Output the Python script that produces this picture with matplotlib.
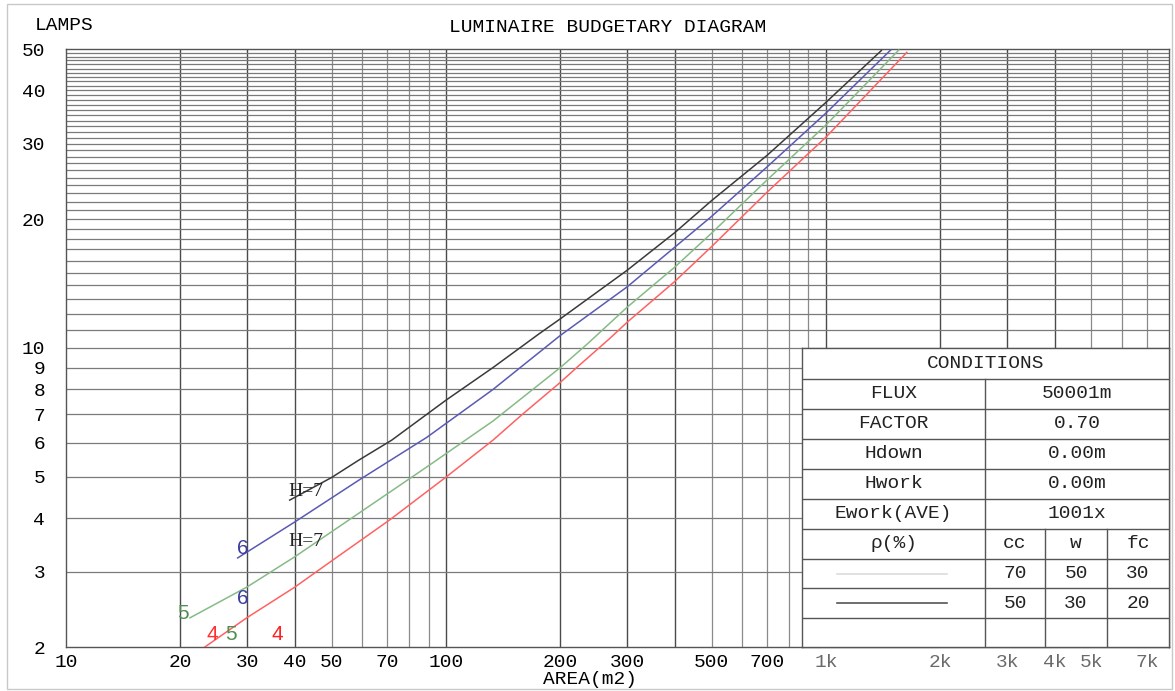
import matplotlib
matplotlib.use("Agg")
import matplotlib.pyplot as plt
from matplotlib.patches import Rectangle

# ---- data: number of lamps vs. room area, per mounting height H ----
area_h7 = [38.8, 50, 59, 72, 100, 133, 176, 200, 300, 400, 500, 700, 1000, 1400]
lamps_h7 = [4.41, 4.98, 5.47, 6.09, 7.55, 9.0, 10.8, 11.7, 15.2, 18.6, 22.1, 28.2, 37.5, 49.6]

area_h6 = [28.3, 40, 59, 89, 133, 200, 300, 400, 500, 700, 1000, 1480]
lamps_h6 = [3.23, 3.92, 4.91, 6.18, 8.0, 10.7, 13.9, 17.2, 20.3, 26.5, 35.4, 49.7]

area_h5 = [21.2, 29.9, 40, 59, 89, 133, 200, 235, 300, 400, 500, 700, 1000, 1555]
lamps_h5 = [2.34, 2.76, 3.25, 4.11, 5.27, 6.75, 9.0, 10.2, 12.46, 15.45, 18.55, 24.7, 33.2, 49.7]

area_h4 = [23.2, 29.9, 40, 50.3, 71, 100, 133, 159, 199, 224, 269, 300, 400, 500, 700, 1000, 1633]
lamps_h4 = [2.0, 2.34, 2.76, 3.19, 3.96, 4.99, 6.09, 7.0, 8.28, 9.1, 10.5, 11.49, 14.3, 17.25, 23.13, 31.1, 49.1]

x_ticks = [10, 20, 30, 40, 50, 70, 100, 200, 300, 500, 700, 1000, 2000, 3000, 4000, 5000, 7000]
x_tick_labels = ["10", "20", "30", "40", "50", "70", "100", "200", "300", "500", "700",
                 "1k", "2k", "3k", "4k", "5k", "7k"]
y_ticks = [2, 3, 4, 5, 6, 7, 8, 9, 10, 20, 30, 40, 50]

cond_labels = ["FLUX", "FACTOR", "Hdown", "Hwork", "Ework(AVE)"]
cond_values = ["50001m", "0.70", "0.00m", "0.00m", "1001x"]
refl_headers = ["cc", "w", "fc"]
refl_rows = [["70", "50", "30"], ["50", "30", "20"]]

MONO = "Liberation Mono"

W, H = 1175, 691
fig = plt.figure(figsize=(W / 100, H / 100), dpi=100)
fig.patch.set_facecolor("white")

def fx(px):
    return px / W

def fy(py):
    return 1 - py / H

# outer frame
fig.patches.append(Rectangle((fx(7), fy(689)), fx(1172) - fx(7), fy(4) - fy(689),
                             transform=fig.transFigure, fill=False,
                             edgecolor="#c8c8c8", lw=1.0))

L, R, T, B = 66, 1169, 49, 647
ax = fig.add_axes([fx(L), fy(B), fx(R) - fx(L), fy(T) - fy(B)])
ax.set_xscale("log")
ax.set_yscale("log")
ax.set_xlim(10, 8000)
ax.set_ylim(2, 50)

# vertical grid: 1..9 per decade
for dec in [10, 100, 1000]:
    for m in range(1, 10):
        v = m * dec
        if 10 < v < 8000:
            dark = m <= 4
            ax.axvline(v, color="#4a4a4a" if dark else "#8a8a8a",
                       lw=1.0 if dark else 0.9, zorder=1)

# horizontal grid: every integer
for v in range(3, 50):
    ax.axhline(v, color="#7a7a7a", lw=0.9, zorder=1)

for s in ax.spines.values():
    s.set_color("#555555")
    s.set_linewidth(1.0)

ax.set_xticks(x_ticks)
ax.set_xticklabels(x_tick_labels)
ax.set_yticks(y_ticks)
ax.set_yticklabels([str(v) for v in y_ticks])
ax.minorticks_off()
ax.tick_params(axis="both", length=0, labelsize=14)
ax.tick_params(axis="x", pad=5)
ax.tick_params(axis="y", pad=15)
for lab in ax.get_xticklabels() + ax.get_yticklabels():
    lab.set_fontfamily(MONO)
for lab in ax.get_xticklabels():
    if lab.get_text().endswith("k"):
        lab.set_color("#6a6a6a")

# curves
ax.plot(area_h7, lamps_h7, color="#3a3a3a", lw=1.1, zorder=3)
ax.plot(area_h6, lamps_h6, color="#5a5ab4", lw=1.1, zorder=3)
ax.plot(area_h5, lamps_h5, color="#86bb86", lw=1.1, zorder=3)
ax.plot(area_h4, lamps_h4, color="#ff6262", lw=1.1, zorder=3)

# curve labels
lbl_kw = dict(ha="center", va="center", zorder=4)
ax.text(42.7, 4.63, "H=7", color="#222222", fontsize=14, family="Liberation Serif", **lbl_kw)
ax.text(42.7, 3.52, "H=7", color="#222222", fontsize=14, family="Liberation Serif", **lbl_kw)
ax.text(29.2, 3.39, "6", color="#3c3ca0", fontsize=15, family="Liberation Sans", **lbl_kw)
ax.text(29.2, 2.59, "6", color="#3c3ca0", fontsize=15, family="Liberation Sans", **lbl_kw)
ax.text(20.3, 2.39, "5", color="#4f8f4f", fontsize=15, family="Liberation Sans", **lbl_kw)
ax.text(24.2, 2.14, "4", color="#ff3030", fontsize=15, family="Liberation Sans", **lbl_kw)
ax.text(27.1, 2.14, "5", color="#4f8f4f", fontsize=15, family="Liberation Sans", **lbl_kw)
ax.text(35.9, 2.14, "4", color="#ff2020", fontsize=15, family="Liberation Sans", **lbl_kw)

# titles
fig.text(fx(35), fy(25), "LAMPS", family=MONO, fontsize=14, ha="left", va="center")
fig.text(fx(608), fy(27), "LUMINAIRE BUDGETARY DIAGRAM", family=MONO, fontsize=14,
         ha="center", va="center")
fig.text(fx(590), fy(679), "AREA(m2)", family=MONO, fontsize=14, ha="center", va="center")

# conditions table
TL, TT = 802, 348
tab = fig.add_axes([fx(TL), fy(B), fx(R) - fx(TL), fy(TT) - fy(B)], zorder=5)
tab.set_xlim(TL, R)
tab.set_ylim(B, TT)
tab.set_facecolor("white")
for s in tab.spines.values():
    s.set_color("#555555")
    s.set_linewidth(1.0)
tab.set_xticks([])
tab.set_yticks([])

row_y = [348, 379, 409, 439, 469, 499, 529, 559, 588, 618, 647]
c_main, c1, c2 = 985, 1045, 1107
lc = "#555555"
for y in row_y[1:-1]:
    tab.plot([TL, R], [y, y], color=lc, lw=1.0)
tab.plot([c_main, c_main], [row_y[1], B], color=lc, lw=1.0)
tab.plot([c1, c1], [row_y[6], B], color=lc, lw=1.0)
tab.plot([c2, c2], [row_y[6], B], color=lc, lw=1.0)

tk = dict(family=MONO, fontsize=14, ha="center", va="center", color="#222222")
mid = lambda i: (row_y[i] + row_y[i + 1]) / 2
tab.text((TL + R) / 2, mid(0), "CONDITIONS", **tk)
for i, (k, v) in enumerate(zip(cond_labels, cond_values)):
    tab.text((TL + c_main) / 2, mid(i + 1), k, **tk)
    tab.text((c_main + R) / 2, mid(i + 1), v, **tk)
tab.text((TL + c_main) / 2, mid(6), "ρ(%)", **tk)
col_centers = [(c_main + c1) / 2, (c1 + c2) / 2, (c2 + R) / 2]
for cx, h in zip(col_centers, refl_headers):
    tab.text(cx, mid(6), h, **tk)
for r, row in enumerate(refl_rows):
    for cx, v in zip(col_centers, row):
        tab.text(cx, mid(7 + r), v, **tk)
# line-style keys for the two reflectance sets
tab.plot([837, 947], [mid(7), mid(7)], color="#dcdcdc", lw=1.2)
tab.plot([837, 947], [mid(8), mid(8)], color="#555555", lw=1.2)

fig.savefig("out.png", dpi=100, facecolor="white")
